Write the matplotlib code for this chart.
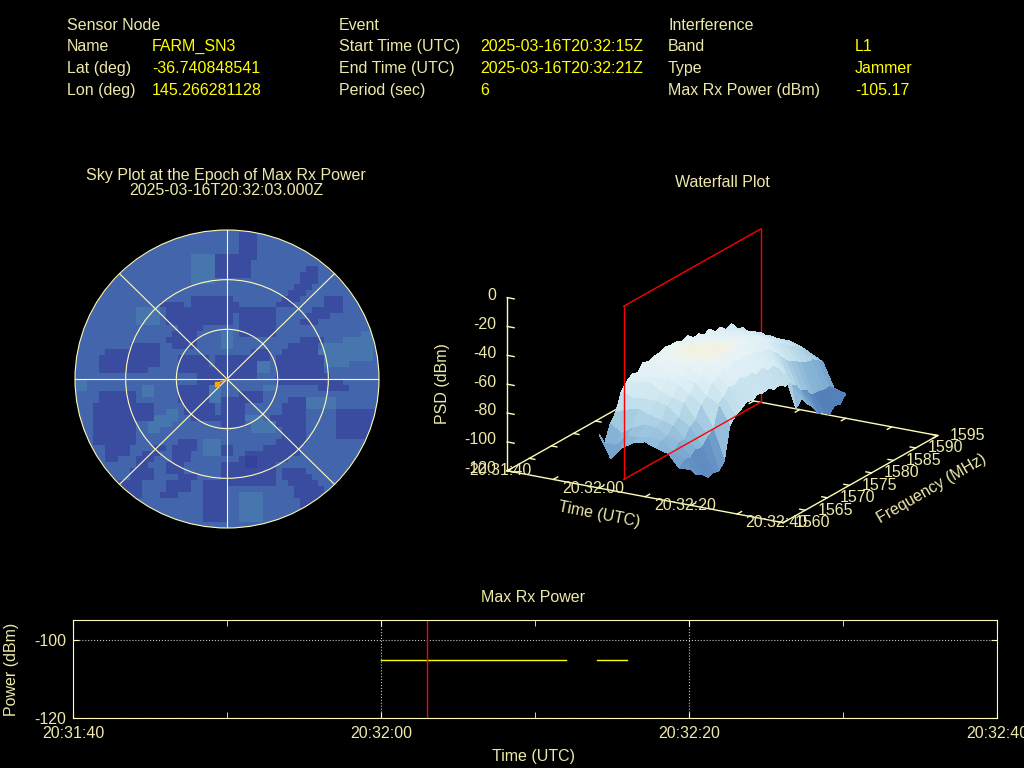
import numpy as np
import matplotlib
matplotlib.use('Agg')
import matplotlib.pyplot as plt
from matplotlib.colors import LinearSegmentedColormap, ListedColormap
from matplotlib.patches import Circle

plt.rcParams['font.family'] = ['Liberation Sans', 'DejaVu Sans']
plt.rcParams['axes.unicode_minus'] = False

CREAM = '#eee8aa'
RING = '#fffcb8'

# header block
sensor_rows = [('Sensor Node', ''), ('Name', 'FARM_SN3'), ('Lat (deg)', '-36.740848541'), ('Lon (deg)', '145.266281128')]
event_rows = [('Event', ''), ('Start Time (UTC)', '2025-03-16T20:32:15Z'), ('End Time (UTC)', '2025-03-16T20:32:21Z'), ('Period (sec)', '6')]
interf_rows = [('Interference', ''), ('Band', 'L1'), ('Type', 'Jammer'), ('Max Rx Power (dBm)', '-105.17')]

# sky plot cells: (row0, row1, col0, col1) on a 50x50 grid, row 0 on top
dark_blocks = [
    (0, 4, 27, 29), (4, 7, 23, 28), (6, 6, 38, 39), (7, 8, 37, 39), (9, 9, 36, 38), (10, 10, 35, 37),
    (11, 11, 34, 36), (12, 12, 33, 35), (11, 12, 41, 43), (13, 13, 39, 43), (14, 14, 38, 41), (15, 15, 37, 39),
    (18, 18, 37, 40), (19, 19, 35, 39), (20, 20, 34, 39), (21, 23, 33, 40), (24, 24, 33, 41), (25, 25, 33, 43),
    (26, 26, 40, 44), (11, 15, 19, 25), (12, 13, 25, 26), (13, 17, 27, 32), (12, 12, 14, 17), (13, 13, 15, 18),
    (14, 15, 15, 19), (16, 16, 17, 20), (17, 17, 16, 19), (18, 18, 15, 19), (19, 19, 16, 19),
    (19, 19, 9, 13), (20, 20, 5, 13), (21, 22, 4, 13), (23, 23, 4, 11),
    (21, 24, 23, 29), (21, 23, 17, 21), (23, 25, 20, 23), (20, 21, 29, 31),
    (26, 28, 17, 23), (29, 30, 18, 22), (31, 31, 19, 24), (28, 32, 24, 27), (27, 28, 27, 30),
    (28, 28, 35, 37), (29, 30, 34, 37), (31, 31, 32, 37), (32, 32, 33, 37), (33, 34, 34, 37), (35, 35, 36, 37),
    (27, 29, 4, 9), (29, 31, 3, 12), (32, 35, 3, 9), (36, 37, 5, 8), (38, 38, 5, 6),
    (30, 34, 43, 49), (35, 35, 17, 19), (36, 36, 16, 19), (37, 38, 16, 18), (39, 40, 15, 17),
    (36, 36, 13, 14), (37, 37, 11, 13), (38, 38, 10, 12), (39, 39, 10, 11), (40, 41, 9, 12), (42, 43, 7, 10), (44, 44, 8, 10),
    (35, 35, 33, 35), (36, 36, 31, 36), (37, 37, 28, 36), (38, 38, 27, 34), (39, 41, 24, 32), (42, 42, 25, 32),
    (36, 37, 24, 25), (41, 41, 17, 19), (42, 43, 15, 18), (44, 44, 14, 16), (42, 48, 21, 24),
    (40, 40, 34, 37), (41, 41, 34, 38), (42, 42, 35, 39), (43, 43, 36, 40), (44, 44, 36, 41), (45, 45, 37, 40), (46, 46, 37, 38),
]
light_blocks = [
    (4, 8, 19, 22), (17, 17, 47, 48), (18, 18, 44, 48), (19, 19, 41, 48), (20, 20, 40, 48), (21, 21, 41, 48), (22, 22, 41, 44),
    (44, 48, 27, 30), (17, 19, 24, 25), (35, 37, 21, 23), (30, 30, 15, 16), (31, 31, 13, 16), (32, 32, 12, 15), (33, 33, 12, 13),
    (28, 29, 38, 42), (13, 15, 10, 13), (22, 23, 30, 31), (26, 26, 31, 32), (31, 31, 28, 30), (32, 33, 29, 32),
    (26, 27, 11, 12), (26, 28, 22, 23), (25, 26, 0, 1),
]
darkest_blocks = [(38, 39, 28, 29)]
track_x = [0.0, -0.1, -0.2]
track_y = [0.0, -0.05, -0.1]

# waterfall, PSD in dBm, one row per time step, one column per frequency
psd_times = [20, 22.5, 25, 27.5, 30, 32.5, 35, 37.5, 40]
psd_freqs = [1560 + i * 1.25 for i in range(29)]
psd_t00 = [-83, -91, -80, -74, -62, -57, -54, -55, -50, -52, -50, -50, -48, -49, -49, -51, -49, -53, -52, -55, -53, -57, -56, -60, -58, -64, -65, -70, -72]
psd_t02 = [-98, -91, -85, -71, -65, -56, -55, -50, -50, -47, -48, -46, -47, -46, -48, -48, -50, -50, -53, -53, -55, -55, -59, -59, -63, -64, -69, -70, -76]
psd_t05 = [-89, -83, -80, -69, -64, -55, -53, -48, -49, -46, -47, -45, -46, -45, -48, -46, -49, -49, -52, -51, -55, -54, -58, -58, -63, -63, -68, -70, -75]
psd_t07 = [-84, -83, -76, -72, -64, -60, -53, -51, -47, -47, -45, -46, -44, -46, -45, -48, -47, -50, -49, -53, -53, -56, -57, -61, -62, -66, -68, -72, -75]
psd_t10 = [-82, -81, -77, -74, -66, -63, -56, -53, -48, -48, -45, -46, -44, -46, -44, -47, -46, -49, -49, -53, -52, -56, -57, -61, -63, -66, -68, -72, -76]
psd_t12 = [-85, -82, -81, -76, -73, -65, -61, -55, -53, -48, -48, -45, -46, -45, -47, -46, -49, -48, -52, -52, -55, -56, -60, -62, -66, -68, -72, -75, -80]
psd_t15 = [-87, -89, -84, -84, -78, -75, -67, -63, -56, -54, -50, -51, -49, -50, -49, -52, -51, -54, -54, -58, -61, -66, -70, -72, -75, -77, -78, -81, -84]
psd_t17 = [-96, -92, -93, -89, -89, -84, -81, -67, -64, -59, -60, -57, -59, -58, -61, -59, -63, -62, -66, -71, -81, -83, -89, -91, -96, -96, -97, -97, -101]
psd_t20 = [-95, -101, -103, -107, -106, -107, -102, -80, -75, -73, -70, -71, -69, -70, -69, -72, -71, -74, -73, -94, -89, -95, -99, -106, -107, -111, -107, -108, -103]

# max rx power, seconds after 20:31:40
power_seg1_t = [20, 32]
power_seg1_v = [-105.17, -105.17]
power_seg2_t = [34, 36]
power_seg2_v = [-105.17, -105.17]
peak_t = 23
wf_peak_t = 21.5
time_ticks = [0, 20, 40, 60]
time_labels = ['20:31:40', '20:32:00', '20:32:20', '20:32:40']
freq_ticks = [1560, 1565, 1570, 1575, 1580, 1585, 1590, 1595]
psd_ticks = [0, -20, -40, -60, -80, -100, -120]

fig = plt.figure(figsize=(10.24, 7.68), dpi=100, facecolor='black')


def put(x, y, s, **kw):
    kw.setdefault('color', CREAM)
    kw.setdefault('fontsize', 11.5)
    kw.setdefault('va', 'center')
    return fig.text(x / 1024, 1 - (y + 1.5) / 768, s, **kw)


def px_axes(x0, y0, x1, y1, **kw):
    return fig.add_axes([x0 / 1024, 1 - y1 / 768, (x1 - x0) / 1024, (y1 - y0) / 768], **kw)


# header
row_y = [24, 45, 67, 89]
for rows, xa, xb in [(sensor_rows, 67, 152), (event_rows, 339, 480), (interf_rows, 668, 855)]:
    for (name, val), y in zip(rows, row_y):
        put(xa, y, name)
        put(xb, y, val, color='#ffff00')

# sky plot
put(226, 174, 'Sky Plot at the Epoch of Max Rx Power', ha='center')
put(226, 189, '2025-03-16T20:32:03.000Z', ha='center')
sky = px_axes(75, 230, 379, 528)
sky.set_facecolor('black')
sky.set_xlim(-3, 3)
sky.set_ylim(-3, 3)
sky.axis('off')

grid = np.zeros((50, 50))
for blocks, level in [(dark_blocks, 1), (light_blocks, 2), (darkest_blocks, 3)]:
    for r0, r1, c0, c1 in blocks:
        grid[r0:r1 + 1, c0:c1 + 1] = level
sky_cmap = ListedColormap(['#4365ac', '#3a4ca0', '#4775ae', '#35409a'])
mesh = sky.pcolormesh(np.linspace(-3, 3, 51), np.linspace(3, -3, 51), grid, cmap=sky_cmap, vmin=-0.5, vmax=3.5)
mesh.set_clip_path(Circle((0, 0), 3, transform=sky.transData))
for r in [1, 2, 3]:
    sky.add_patch(Circle((0, 0), r, fill=False, ec=RING, lw=0.8, clip_on=False))
for a in np.deg2rad([0, 45, 90, 135]):
    sky.plot([-3 * np.cos(a), 3 * np.cos(a)], [-3 * np.sin(a), 3 * np.sin(a)], color=RING, lw=0.8)
sky.plot(track_x, track_y, color='#ffa500', lw=1)
sky.plot(track_x[-1], track_y[-1], 's', color='#ffa500', ms=3.5)

# waterfall
put(722, 181, 'Waterfall Plot', ha='center')
S = 700
ax = fig.add_axes([(713 - S / 2) / 1024, (768 - 376 - S / 2) / 768, S / 1024, S / 768],
                  projection='3d', proj_type='ortho', computed_zorder=False)
ax.patch.set_alpha(0)
ax.view_init(elev=19, azim=-60)
ax.set_box_aspect((1, 0.97, 0.575), zoom=0.666)
ax.set_xlim(0, 60, view_margin=0)
ax.set_ylim(1560, 1595, view_margin=0)
ax.set_zlim(-120, 0, view_margin=0)
ax.set_axis_off()

wf_cmap = LinearSegmentedColormap.from_list('wf', [(0, '#4468ac'), (0.18, '#5a88bf'), (0.4, '#8cb8d8'), (0.62, '#bcdcea'),
                                                   (0.82, '#dceef5'), (0.95, '#e8f3f5'), (1, '#f8f2da')])
T, F = np.meshgrid(psd_times, psd_freqs, indexing='ij')
Z = np.array([psd_t00, psd_t02, psd_t05, psd_t07, psd_t10, psd_t12, psd_t15, psd_t17, psd_t20], dtype=float)
ax.plot_surface(T, F, Z, cmap=wf_cmap, vmin=-112, vmax=-44, rstride=1, cstride=1,
                linewidth=0, antialiased=False, shade=False, zorder=2)

# box floor and z axis
floor_t = [0, 60, 60, 0, 0]
floor_f = [1560, 1560, 1595, 1595, 1560]
ax.plot(floor_t, floor_f, [-120] * 5, color=RING, lw=1, zorder=1)
ax.plot([0, 0], [1560, 1560], [-120, 0], color=RING, lw=1, zorder=1)
for t in range(0, 61, 10):
    ax.plot([t, t], [1560, 1561], [-120, -120], color=RING, lw=1, zorder=1)
    ax.plot([t, t], [1595, 1594], [-120, -120], color=RING, lw=1, zorder=1)
for f in freq_ticks:
    ax.plot([60, 58.8], [f, f], [-120, -120], color=RING, lw=1, zorder=1)
    ax.plot([0, 1.2], [f, f], [-120, -120], color=RING, lw=1, zorder=1)
for z in psd_ticks:
    ax.plot([0, 1.5], [1560, 1560], [z, z], color=RING, lw=1, zorder=1)
    ax.text(-2.4, 1560, z, str(z), color=CREAM, fontsize=11.5, ha='right', va='center')
for t, lab in zip(time_ticks, time_labels):
    ax.text(t - 1, 1559.6, -120, lab, color=CREAM, fontsize=11.5, ha='center', va='center', zorder=5)
for f in freq_ticks:
    ax.text(64.8, f + 1.75, -120, str(f), color=CREAM, fontsize=11.5, ha='center', va='center', zorder=5)

# marker plane at the epoch of max power
ax.plot([wf_peak_t, wf_peak_t], [1564, 1564], [-120, 0], color='#ff0000', lw=1, zorder=3)
ax.plot([wf_peak_t, wf_peak_t], [1564, 1595], [-120, -120], color='#ff0000', lw=1, zorder=3)
ax.plot([wf_peak_t, wf_peak_t], [1564, 1595], [0, 0], color='#ff0000', lw=1, zorder=1)
ax.plot([wf_peak_t, wf_peak_t], [1595, 1595], [-120, 0], color='#ff0000', lw=1, zorder=1)

put(443, 382, 'PSD (dBm)', rotation=90, ha='center')
put(599, 513, 'Time (UTC)', rotation=-11, ha='center')
put(932, 487, 'Frequency (MHz)', rotation=30, ha='center')

# max rx power strip
put(533, 596, 'Max Rx Power', ha='center')
pw = px_axes(73, 620, 997, 718)
pw.set_facecolor('black')
pw.set_xlim(0, 60)
pw.set_ylim(-120, -95)
pw.plot(power_seg1_t, power_seg1_v, color='#ffff00', lw=1)
pw.plot(power_seg2_t, power_seg2_v, color='#ffff00', lw=1)
pw.axvline(peak_t, color='#ff0000', lw=1)
pw.set_xticks(time_ticks, time_labels)
pw.set_xticks([10, 30, 50], minor=True)
pw.set_yticks([-120, -100])
pw.grid(True, which='major', color='#c8c8c8', linestyle=':', linewidth=0.8)
pw.tick_params(which='both', direction='in', top=True, right=True, colors=RING, labelcolor=CREAM,
               labelsize=11.5, length=4, pad=5)
for s in pw.spines.values():
    s.set_color(RING)
pw.tick_params(axis='x', pad=6)
put(12, 668, 'Power (dBm)', rotation=90, ha='center')
put(533, 755, 'Time (UTC)', ha='center')

plt.savefig('out.png', dpi=100, facecolor='black')
